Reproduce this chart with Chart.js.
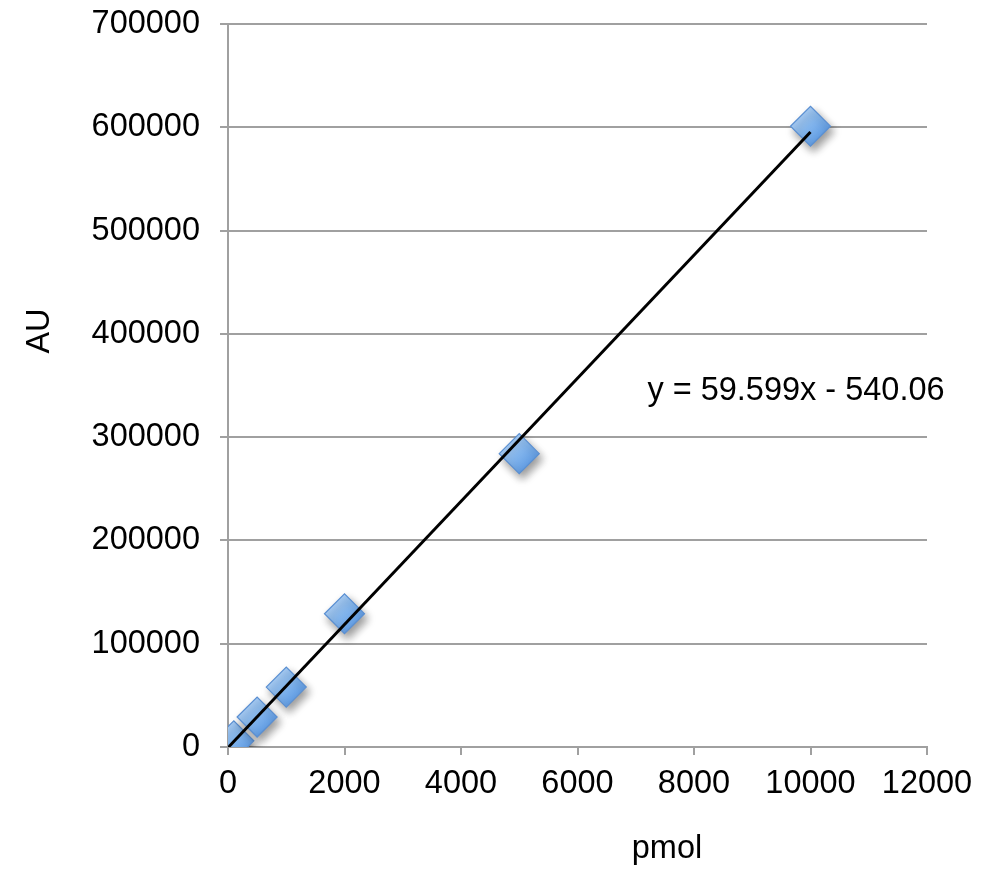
<!DOCTYPE html>
<html><head><meta charset="utf-8">
<script src="https://cdn.jsdelivr.net/npm/chart.js@4/dist/chart.umd.min.js"></script>
<style>html,body{margin:0;padding:0;background:#fff;overflow:hidden}</style>
</head><body>
<canvas id="c" width="981" height="874" style="display:block;width:981px;height:874px"></canvas>
<script>
// ---- data ----
const pmol = [0, 100, 500, 1000, 2000, 5000, 10000];
const au = [0, 6000, 29000, 58000, 129000, 284000, 601000];
const fitSlope = 59.599;
const fitIntercept = -540.06;
const fitRange = [0, 10000];
const equationText = 'y = 59.599x - 540.06';
const xTitle = 'pmol';
const yTitle = 'AU';
const xTickValues = [0, 2000, 4000, 6000, 8000, 10000, 12000];
const yTickValues = [0, 100000, 200000, 300000, 400000, 500000, 600000, 700000];

const FONT = '"Liberation Sans", Arial, Helvetica, sans-serif';
const FS = 32.5;
const R = 20;

const points = pmol.map((x, i) => ({x: x, y: au[i]}));
const fitPoints = fitRange.map(x => ({x: x, y: fitSlope * x + fitIntercept}));

function markerFill(c) {
  const chart = c.chart;
  if (!chart.chartArea || !c.parsed) return '#7cb0ea';
  const px = chart.scales.x.getPixelForValue(c.parsed.x);
  const py = chart.scales.y.getPixelForValue(c.parsed.y);
  const g = chart.ctx.createLinearGradient(px - R * 0.7, py - R * 0.7, px + R * 0.6, py + R * 0.6);
  g.addColorStop(0, '#b6d5f7');
  g.addColorStop(0.5, '#85b7ee');
  g.addColorStop(1, '#5e9ae2');
  return g;
}

const shadowPlugin = {
  id: 'shadow',
  beforeDatasetDraw(chart, args) {
    if (args.index !== 1) return;
    const ctx = chart.ctx;
    ctx.save();
    ctx.shadowColor = 'rgba(0,0,0,0.4)';
    ctx.shadowBlur = 8;
    ctx.shadowOffsetX = 3;
    ctx.shadowOffsetY = 5;
  },
  afterDatasetDraw(chart, args) {
    if (args.index !== 1) return;
    chart.ctx.restore();
  }
};

const textPlugin = {
  id: 'texts',
  afterDraw(chart) {
    const ctx = chart.ctx;
    const xs = chart.scales.x, ys = chart.scales.y;
    ctx.save();
    ctx.fillStyle = '#000';
    ctx.font = FS + 'px ' + FONT;
    // equation label
    ctx.textAlign = 'left';
    ctx.textBaseline = 'middle';
    ctx.fillText(equationText, xs.getPixelForValue(7200), ys.getPixelForValue(345000));
    // x title
    ctx.textAlign = 'center';
    ctx.textBaseline = 'alphabetic';
    ctx.fillText(xTitle, 667, 858);
    // y title
    ctx.translate(49, 331);
    ctx.rotate(-Math.PI / 2);
    ctx.fillText(yTitle, 0, 0);
    ctx.restore();
  }
};

new Chart(document.getElementById('c'), {
  type: 'scatter',
  data: {
    datasets: [
      {
        type: 'line',
        label: 'Linear fit',
        data: fitPoints,
        borderColor: '#000',
        borderWidth: 3,
        pointRadius: 0,
        fill: false,
        tension: 0,
        order: 0
      },
      {
        label: 'AU',
        data: points,
        pointStyle: 'rectRot',
        pointRadius: R,
        pointHoverRadius: R,
        backgroundColor: markerFill,
        borderColor: '#5a8fd2',
        borderWidth: 1.2,
        order: 1
      }
    ]
  },
  options: {
    responsive: false,
    animation: false,
    devicePixelRatio: 1,
    layout: {padding: {top: 24, right: 54, left: 0, bottom: 0}},
    plugins: {legend: {display: false}, tooltip: {enabled: false}},
    events: [],
    scales: {
      x: {
        type: 'linear',
        min: 0, max: 12000,
        afterBuildTicks: s => { s.ticks = xTickValues.map(v => ({value: v})); },
        afterFit: s => { s.height = 127; s.paddingLeft = 0; s.paddingRight = 0; },
        grid: {display: true, drawOnChartArea: false, drawTicks: true, tickLength: 8, color: '#a0a0a0', lineWidth: 2},
        border: {display: true, color: '#a0a0a0', width: 2},
        ticks: {color: '#000', font: {family: FONT, size: FS}, padding: 10, maxRotation: 0, autoSkip: false,
                callback: v => String(v)}
      },
      y: {
        type: 'linear',
        min: 0, max: 700000,
        afterBuildTicks: s => { s.ticks = yTickValues.map(v => ({value: v})); },
        afterFit: s => { s.width = 228; s.paddingTop = 0; s.paddingBottom = 0; },
        grid: {display: true, drawOnChartArea: true, drawTicks: true, tickLength: 8, color: '#a0a0a0', lineWidth: 2},
        border: {display: true, color: '#a0a0a0', width: 2},
        ticks: {color: '#000', font: {family: FONT, size: FS}, padding: 20, autoSkip: false,
                callback: v => String(v)}
      }
    }
  },
  plugins: [shadowPlugin, textPlugin]
});
</script>
</body></html>
